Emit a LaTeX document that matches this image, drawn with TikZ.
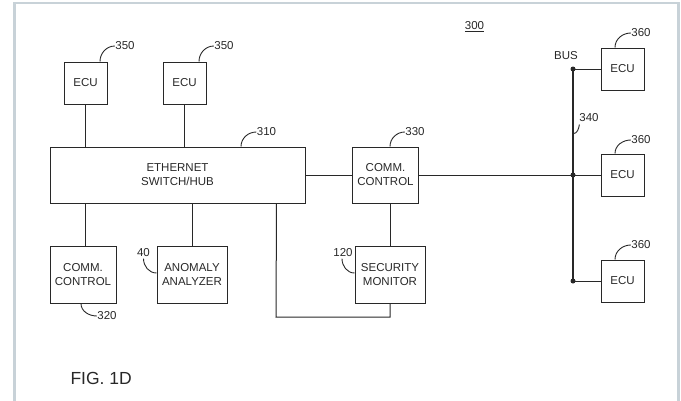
\documentclass[tikz,border=0pt]{standalone}
\usepackage{fontspec}
\setmainfont{Liberation Sans}
\usetikzlibrary{positioning,calc}
\definecolor{framegray}{RGB}{200,210,216}
\definecolor{inkgray}{RGB}{40,40,40}

\begin{document}
\begin{tikzpicture}[
    x=1pt, y=-1pt,
    color=inkgray,
    line width=1pt,
    % patent figure styles
    block/.style={draw, inner sep=0, align=center, font=\fontsize{11.5}{14}\selectfont},
    ecu/.style={block, minimum width=43pt, minimum height=42pt},
    refnum/.style={inner sep=0, font=\fontsize{11.5}{14}\selectfont},
    wire/.style={draw},
    leader/.style={draw, line width=0.9pt},
    busline/.style={draw, line width=1.8pt},
    tapdot/.style={circle, fill, minimum size=5pt, inner sep=0}
  ]

  \useasboundingbox (0,0) rectangle (681,400);
  % Frame
  \draw[framegray, line width=2.6pt] (14.7,405) -- (14.7,2.8) -- (678.5,2.8) -- (678.5,405);

  % Switch and its ECUs
  \node[ecu] (ecua) at (85.5,83) {ECU};
  \node[ecu] (ecub) at (184.5,83) {ECU};
  \node[block, minimum width=255pt, minimum height=56pt] (eth) at (177.5,175) {ETHERNET\\SWITCH/HUB};
  \node[block, minimum width=66pt, minimum height=57pt] (ccl) at (83,274.5) {COMM.\\CONTROL};
  \node[block, minimum width=70pt, minimum height=57pt] (anomaly) at (192,274.5) {ANOMALY\\ANALYZER};
  % Gateway side
  \node[block, minimum width=66pt, minimum height=56pt] (ccr) at (385.5,175) {COMM.\\CONTROL};
  \node[block, minimum width=70pt, minimum height=57pt] (secmon) at (390,274.5) {SECURITY\\MONITOR};
  % Bus ECUs
  \node[ecu] (ecuc) at (622.5,69) {ECU};
  \node[ecu] (ecud) at (622.5,175) {ECU};
  \node[ecu] (ecue) at (622.5,281) {ECU};

  \coordinate (busT) at (573,69);
  \coordinate (busM) at (573,175);
  \coordinate (busB) at (573,281);
  \coordinate (tap) at ($(eth.south east)+(-29,0)$);
  \coordinate (loop) at (276,317);

  % Connections
  \draw[wire] (ecua.south) -- (ecua.south |- eth.north);
  \draw[wire] (ecub.south) -- (ecub.south |- eth.north);
  \draw[wire] (ecua.south |- eth.south) -- (ecua.south |- ccl.north);
  \draw[wire] (anomaly.north) -- (anomaly.north |- eth.south);
  \draw[wire] (eth.east) -- (ccr.west);
  \draw[wire] (ccr.east) -- (ecud.west);
  \draw[wire] (secmon.north) -- (secmon.north |- ccr.south);
  \draw[wire] (tap) -- (loop) -| (secmon.south);
  \draw[busline] (busT) -- (busB);
  \draw[wire] (busT) -- (ecuc.west);
  \draw[wire] (busB) -- (ecue.west);
  \foreach \p in {busT,busM,busB}
    \node[tapdot] (dot\p) at (\p) {};

  % Reference numerals
  \node[refnum] (r350a) at (125,46) {350};
  \node[refnum] (r350b) at (224,46) {350};
  \node[refnum] (r310) at (266.5,132) {310};
  \node[refnum] (r330) at (415,132) {330};
  \node[refnum] (r360a) at (641,33) {360};
  \node[refnum] (r360b) at (641,140) {360};
  \node[refnum] (r360c) at (641,245) {360};
  \node[refnum] (r320) at (107,316) {320};
  \node[refnum] (r40) at (143.5,253) {40};
  \node[refnum] (r120) at (343,253) {120};
  \node[refnum] (r340) at (589,118) {340};
  \node[refnum] (buslbl) at (566,56) {BUS};
  \node[refnum] (r300) at (474.5,27) {\underline{300}};
  \node[anchor=west, inner sep=0, font=\fontsize{17.5}{20}\selectfont] (figlbl) at (70,378) {FIG. 1D};

  % Leader lines
  \draw[leader] ($(ecua.north)+(14.5,0)$) to[out=90,in=180] (r350a.west);
  \draw[leader] ($(ecub.north)+(14.5,0)$) to[out=90,in=180] (r350b.west);
  \draw[leader] ($(eth.north)+(63.5,0)$) to[out=90,in=180] (r310.west);
  \draw[leader] ($(ccr.north)+(4.5,0)$) to[out=90,in=180] (r330.west);
  \draw[leader] ($(ecuc.north)+(-7.5,0)$) to[out=90,in=180] (r360a.west);
  \draw[leader] ($(ecud.north)+(-7.5,0)$) to[out=90,in=180] (r360b.west);
  \draw[leader] ($(ecue.north)+(-7.5,0)$) to[out=90,in=180] (r360c.west);
  \draw[leader] ($(ccl.south)+(-2,0)$) to[out=-90,in=180] (r320.west);
  \draw[leader] ($(r40.south)+(0,1)$) to[out=-90,in=180] ($(anomaly.west)+(0,-1.5)$);
  \draw[leader] ($(r120.south)+(-1,1)$) to[out=-90,in=180] ($(secmon.west)+(0,-1.5)$);
  \draw[leader] ($(busT)!0.61!(busM)$) to[out=0,in=-100] ($(r340.south west)+(0.5,2)$);
\end{tikzpicture}
\end{document}
